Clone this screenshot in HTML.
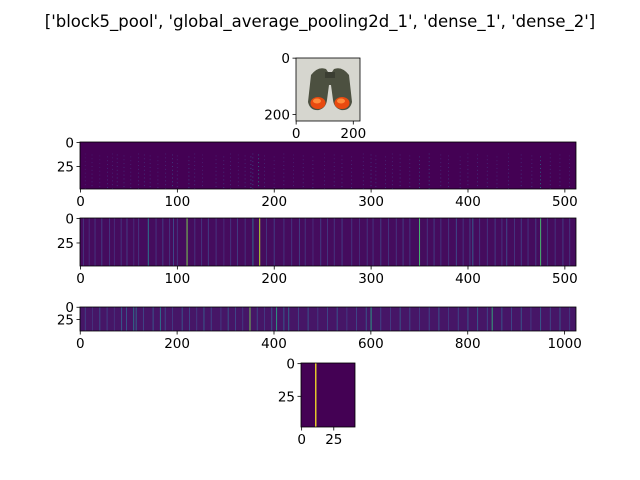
<!DOCTYPE html>
<html><head><meta charset="utf-8">
<style>
html,body{margin:0;padding:0;background:#fff;}
svg{display:block;font-family:"DejaVu Sans","Liberation Sans",sans-serif;}
</style></head>
<body>
<svg id="fig" width="640" height="480" xmlns="http://www.w3.org/2000/svg">
<rect width="640" height="480" fill="#fff"/>
<text x="320" y="27" text-anchor="middle" font-size="16.5" fill="#000">['block5_pool', 'global_average_pooling2d_1', 'dense_1', 'dense_2']</text>
<g id="img-panel">
<rect x="296" y="58" width="64" height="63" fill="#d6d6cf"/>
<path d="M311 75 Q318 66 326 69 L328 72 L332 72 L334 69 Q342 66 349 75 L352 102 Q350 111 341 110 Q334 108 333 100 L331 85 L329 85 L327 100 Q326 108 319 110 Q310 111 308 102 Z" fill="#4c5040"/>
<rect x="325" y="72" width="10" height="6" fill="#3b3e32"/>
<ellipse cx="318" cy="103" rx="7.5" ry="6" fill="#e84a10"/>
<ellipse cx="342" cy="103" rx="7.5" ry="6" fill="#e84a10"/>
<ellipse cx="317" cy="101" rx="4" ry="2.5" fill="#ff8a3a"/>
<ellipse cx="341" cy="101" rx="4" ry="2.5" fill="#ff8a3a"/>
</g>
<g id="marks"></g>
<g id="axes"></g>
</svg>
<script>
// ---- data ----
const p1Cols = [5,12,20,28,33,38,45,52,60,66,72,80,88,95,100,112,118,126,140,148,155,163,170,176,178,184,190,200,210,220,230,240,252,262,270,280,292,300,305,315,322,330,340,350,360,372,380,392,400,410,420,430,442,455,466,475,485,495,505];
const p1Vals = [0.12,0.15,0.12,0.18,0.15,0.2,0.18,0.15,0.18,0.2,0.18,0.15,0.18,0.3,0.18,0.25,0.18,0.15,0.18,0.2,0.18,0.15,0.18,0.35,0.3,0.6,0.18,0.15,0.18,0.15,0.18,0.2,0.15,0.18,0.2,0.18,0.18,0.25,0.2,0.18,0.18,0.2,0.18,0.3,0.3,0.18,0.2,0.18,0.18,0.2,0.18,0.15,0.18,0.2,0.18,0.5,0.2,0.18,0.15];
const p2Cols = [3,9,15,22,30,35,42,48,55,60,70,78,85,92,96,100,110,118,125,132,140,148,155,162,170,178,185,192,200,210,218,226,232,240,248,255,262,270,280,288,296,302,310,318,326,333,340,350,358,365,372,380,388,395,402,405,412,420,428,435,440,448,455,462,470,475,482,490,498,505];
const p2Vals = [0.15,0.12,0.15,0.18,0.15,0.12,0.15,0.18,0.12,0.15,0.4,0.15,0.18,0.15,0.22,0.15,0.8,0.15,0.15,0.18,0.15,0.12,0.15,0.18,0.15,0.35,0.9,0.15,0.18,0.15,0.15,0.18,0.15,0.12,0.18,0.15,0.15,0.18,0.15,0.12,0.15,0.15,0.18,0.15,0.15,0.18,0.15,0.7,0.15,0.18,0.15,0.15,0.22,0.15,0.18,0.3,0.15,0.15,0.18,0.15,0.22,0.15,0.18,0.15,0.18,0.7,0.15,0.15,0.18,0.15];
const p3Cols = [10,25,40,55,70,85,95,110,115,130,150,165,175,190,210,225,240,255,270,290,305,320,335,350,365,380,395,405,420,430,450,470,490,510,530,550,570,590,600,620,640,660,680,700,720,740,760,780,800,820,840,850,870,890,910,930,950,970,990,1010];
const p3Vals = [0.2,0.15,0.25,0.2,0.15,0.3,0.28,0.4,0.35,0.22,0.28,0.4,0.22,0.18,0.28,0.22,0.18,0.3,0.22,0.18,0.28,0.22,0.18,0.8,0.22,0.18,0.28,0.6,0.3,0.35,0.22,0.28,0.18,0.22,0.28,0.18,0.22,0.28,0.6,0.22,0.18,0.28,0.22,0.18,0.22,0.28,0.18,0.22,0.28,0.3,0.22,0.65,0.28,0.22,0.28,0.18,0.3,0.22,0.28,0.18];
const p4Cols = [11];
const p4Vals = [1.0];
const ticksA = [0,100,200,300,400,500];
const ticksB = [0,200,400,600,800,1000];
const ticksY = [0,25];

// ---- helpers ----
const stops=[[68,1,84],[72,40,120],[62,74,137],[49,104,142],[38,130,142],[31,158,137],[53,183,121],[110,206,88],[181,222,43],[253,231,37]];
function viridis(t){t=Math.max(0,Math.min(1,t));const s=t*9,i=Math.min(8,Math.floor(s)),f=s-i;const a=stops[i],b=stops[i+1];return `rgb(${Math.round(a[0]+(b[0]-a[0])*f)},${Math.round(a[1]+(b[1]-a[1])*f)},${Math.round(a[2]+(b[2]-a[2])*f)})`;}
const NS="http://www.w3.org/2000/svg";
const marks=document.getElementById('marks'), axes=document.getElementById('axes');
function el(tag,attrs,parent){const e=document.createElementNS(NS,tag);for(const k in attrs)e.setAttribute(k,attrs[k]);parent.appendChild(e);return e;}

function panel(name,L,T,W,H,nCols,nRows,cols,vals,base,xticks,dashed){
  const xs=c=>L+c*W/nCols, ys=r=>T+r*H/nRows;
  const bg=el('rect',{x:L,y:T,width:W,height:H,fill:viridis(base)},marks);
  
  
  const cw=Math.max(W/nCols,0.9);
  cols.forEach((c,i)=>{
    if(dashed){
      for(let r=Math.floor(nRows*0.25)+(i%4);r<nRows;r+=4){
        const m=el('rect',{x:xs(c),y:ys(r),width:0.8,height:H/nRows,fill:viridis(vals[i]*(0.4+0.6*r/nRows))},marks);
        
        
      }
    } else {
      const m=el('rect',{x:xs(c),y:T,width:cw,height:H,fill:viridis(vals[i])},marks);
      
      
    }
  });
  const fr=el('rect',{x:L,y:T,width:W,height:H,fill:'none',stroke:'#000','stroke-width':0.8},axes);
  
  
  xticks.forEach(v=>{const x=xs(v+0.5);
    el('line',{x1:x,x2:x,y1:T+H,y2:T+H+3.5,stroke:'#000','stroke-width':0.8},axes);
    const t=el('text',{x:x,y:T+H+17,'text-anchor':'middle','font-size':13.5},axes);t.textContent=v;
    
    });
  ticksY.forEach(v=>{const y=ys(v+0.5);
    el('line',{x1:L-3.5,x2:L,y1:y,y2:y,stroke:'#000','stroke-width':0.8},axes);
    const t=el('text',{x:L-6,y:y+5,'text-anchor':'end','font-size':13.5},axes);t.textContent=v;
    
    });
}
// image axes
(function(){const L=296,T=58,W=64,H=63,n=224;
  el('rect',{x:L,y:T,width:W,height:H,fill:'none',stroke:'#000','stroke-width':0.8},axes);
  [0,200].forEach(v=>{const x=L+(v+0.5)*W/n;el('line',{x1:x,x2:x,y1:T+H,y2:T+H+3.5,stroke:'#000','stroke-width':0.8},axes);
    const t=el('text',{x:x,y:T+H+17,'text-anchor':'middle','font-size':13.5},axes);t.textContent=v;
    
    
    const y=T+(v+0.5)*H/n;el('line',{x1:L-3.5,x2:L,y1:y,y2:y,stroke:'#000','stroke-width':0.8},axes);
    const u=el('text',{x:L-6,y:y+5,'text-anchor':'end','font-size':13.5},axes);u.textContent=v;
    
    });})();
panel('block5-pool',80,142,496,47,512,49,p1Cols,p1Vals,0.0,ticksA,true);
panel('global-avg-pool',80,218,496,48,512,49,p2Cols,p2Vals,0.03,ticksA,false);
panel('dense-1',80,307,496,24,1024,49,p3Cols,p3Vals,0.06,ticksB,false);
panel('dense-2',301,363,54,64,42,49,p4Cols,p4Vals,0.0,ticksY,false);
</script>
</body></html>
